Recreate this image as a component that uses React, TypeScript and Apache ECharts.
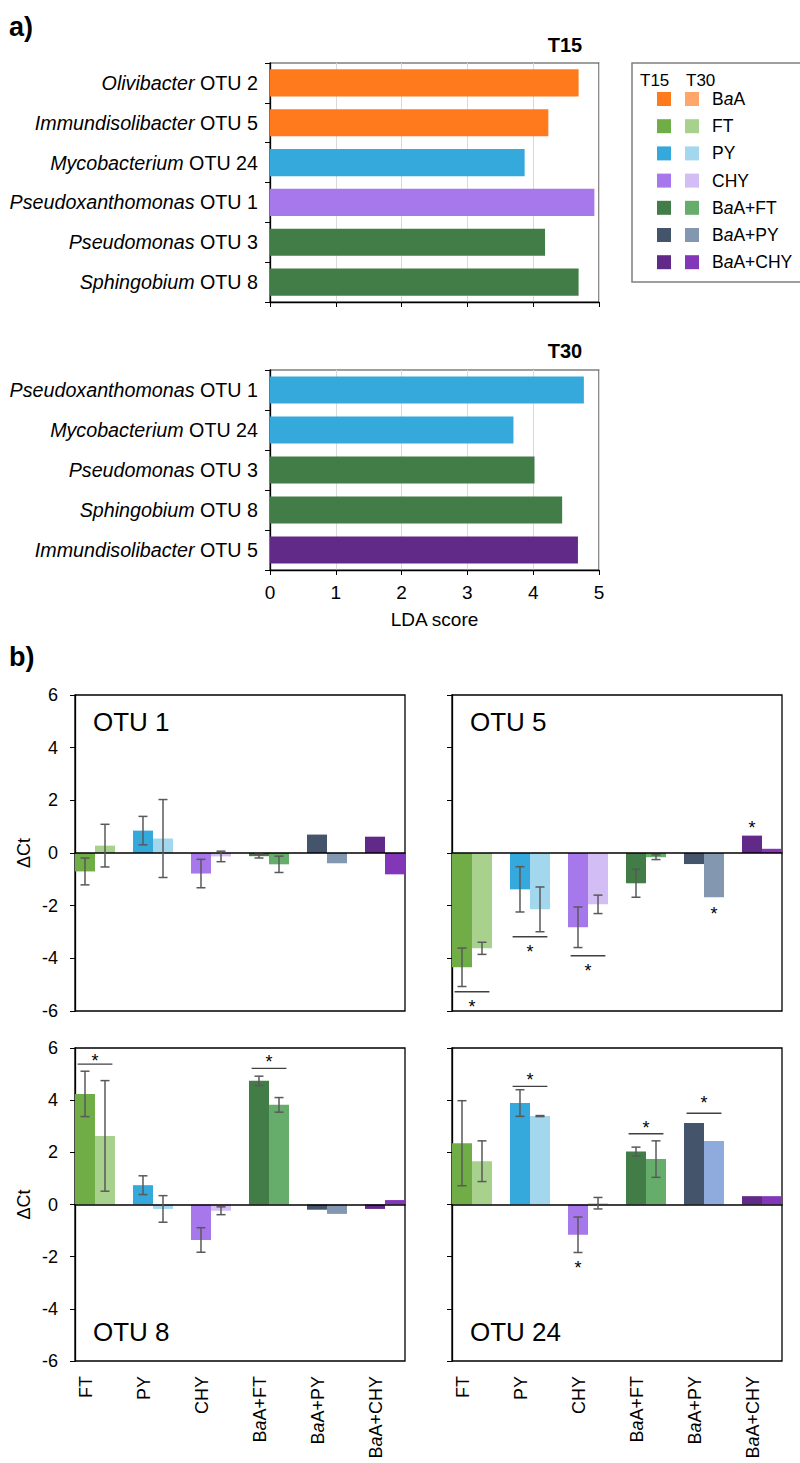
import React, { useEffect, useRef } from 'react';
import * as echarts from 'echarts';

const FONT = '"Liberation Sans", Arial, Helvetica, sans-serif';

// ---- Treatments & colours ----
const treatments = ['BaA', 'FT', 'PY', 'CHY', 'BaA+FT', 'BaA+PY', 'BaA+CHY'];
const colorsT15 = ['#FF7A1C', '#70AD47', '#35A8DC', '#A678EC', '#427D47', '#44546A', '#622A88'];
const colorsT30 = ['#FFA66B', '#A9D18E', '#A3D7EE', '#D2BDF5', '#66AD6C', '#8497B0', '#8236B8'];

// ---- Panel a: LDA scores ----
const t15Genus = ['Olivibacter', 'Immundisolibacter', 'Mycobacterium', 'Pseudoxanthomonas', 'Pseudomonas', 'Sphingobium'];
const t15Otu = ['OTU 2', 'OTU 5', 'OTU 24', 'OTU 1', 'OTU 3', 'OTU 8'];
const t15Score = [4.69, 4.23, 3.87, 4.93, 4.18, 4.69];
const t15Group = ['BaA', 'BaA', 'PY', 'CHY', 'BaA+FT', 'BaA+FT'];

const t30Genus = ['Pseudoxanthomonas', 'Mycobacterium', 'Pseudomonas', 'Sphingobium', 'Immundisolibacter'];
const t30Otu = ['OTU 1', 'OTU 24', 'OTU 3', 'OTU 8', 'OTU 5'];
const t30Score = [4.77, 3.7, 4.02, 4.44, 4.68];
const t30Group = ['PY', 'PY', 'BaA+FT', 'BaA+FT', 'BaA+CHY'];

const ldaMin = 0;
const ldaMax = 5;

// ---- Panel b: ΔCt ----
const qpcrCats = ['FT', 'PY', 'CHY', 'BaA+FT', 'BaA+PY', 'BaA+CHY'];
const dctMin = -6;
const dctMax = 6;

const otu1T15 = [-0.7, 0.85, -0.78, -0.12, 0.7, 0.62];
const otu1T15Err = [0.51, 0.54, 0.54, 0.07, null, null];
const otu1T30 = [0.28, 0.55, -0.13, -0.43, -0.39, -0.81];
const otu1T30Err = [0.81, 1.48, 0.2, 0.31, null, null];
const otu1SigLines: number[][] = [];
const otu1Stars: number[][] = [];

const otu5T15 = [-4.34, -1.38, -2.82, -1.15, -0.42, 0.66];
const otu5T15Err = [0.73, 0.86, 0.77, 0.53, null, null];
const otu5T30 = [-3.62, -2.14, -1.95, -0.16, -1.68, 0.16];
const otu5T30Err = [0.23, 0.85, 0.35, 0.09, null, null];
const otu5SigLines = [[0, -5.27], [1, -3.18], [2, -3.9]];
const otu5Stars = [[0, -5.71, 0], [1, -3.61, 0], [2, -4.34, 0], [4, -2.15, 1], [5, 1.1, -1]];

const otu8T15 = [4.24, 0.74, -1.36, 4.74, -0.2, -0.17];
const otu8T15Err = [0.87, 0.36, 0.47, 0.18, null, null];
const otu8T30 = [2.63, -0.17, -0.24, 3.82, -0.36, 0.17];
const otu8T30Err = [2.12, 0.51, 0.15, 0.28, null, null];
const otu8SigLines = [[0, 5.38], [3, 5.22]];
const otu8Stars = [[0, 5.65, 0], [3, 5.6, 0]];

const otu24T15 = [2.35, 3.89, -1.16, 2.03, 3.12, 0.32];
const otu24T15Err = [1.63, 0.51, 0.68, 0.17, null, null];
const otu24T30 = [1.66, 3.39, 0.05, 1.74, 2.43, 0.32];
const otu24T30Err = [0.78, 0.02, 0.22, 0.7, null, null];
const otu24SigLines = [[1, 4.53], [3, 2.71], [4, 3.5]];
const otu24Stars = [[1, 4.94, 0], [2, -2.29, -1], [3, 3.07, 0], [4, 4.04, 0]];

const panels = [
  { title: 'OTU 1', t15: otu1T15, t15Err: otu1T15Err, t30: otu1T30, t30Err: otu1T30Err, lines: otu1SigLines, stars: otu1Stars, col: 0, row: 0, t30Override: {} as Record<string, string> },
  { title: 'OTU 5', t15: otu5T15, t15Err: otu5T15Err, t30: otu5T30, t30Err: otu5T30Err, lines: otu5SigLines, stars: otu5Stars, col: 1, row: 0, t30Override: {} as Record<string, string> },
  { title: 'OTU 8', t15: otu8T15, t15Err: otu8T15Err, t30: otu8T30, t30Err: otu8T30Err, lines: otu8SigLines, stars: otu8Stars, col: 0, row: 1, t30Override: {} as Record<string, string> },
  { title: 'OTU 24', t15: otu24T15, t15Err: otu24T15Err, t30: otu24T30, t30Err: otu24T30Err, lines: otu24SigLines, stars: otu24Stars, col: 1, row: 1, t30Override: { 'BaA+PY': '#8FAADC' } as Record<string, string> },
];

function baaRich(v: string) {
  if (v.startsWith('BaA')) return '{n|B}{i|a}{n|A' + v.slice(3) + '}';
  return '{n|' + v + '}';
}

function colT15(t: string) {
  return colorsT15[treatments.indexOf(t)];
}
function colT30(t: string) {
  return colorsT30[treatments.indexOf(t)];
}

function buildOption() {
  const grid: any[] = [];
  const xAxis: any[] = [];
  const yAxis: any[] = [];
  const series: any[] = [];
  const graphic: any[] = [];

  // ---------- Panel a ----------
  const ldaSets = [
    { genus: t15Genus, otu: t15Otu, score: t15Score, group: t15Group, top: 63, height: 239, labels: false, name: 'T15', ty: 45 },
    { genus: t30Genus, otu: t30Otu, score: t30Score, group: t30Group, top: 370, height: 200, labels: true, name: 'T30', ty: 351 },
  ];
  ldaSets.forEach((s, k) => {
    grid.push({ left: 270, top: s.top, width: 329, height: s.height, show: true, borderColor: '#404040', borderWidth: 1.2, backgroundColor: 'transparent' });
    xAxis.push({
      type: 'value', gridIndex: k, min: ldaMin, max: ldaMax, interval: 1,
      axisLine: { show: true, lineStyle: { color: '#000', width: 1.3 } },
      axisTick: { show: true, inside: false, length: 5, lineStyle: { color: '#000' } },
      axisLabel: { show: s.labels, fontSize: 19, color: '#000', fontFamily: FONT, margin: 13 },
      splitLine: { show: true, lineStyle: { color: '#D9D9D9', width: 1 } },
      name: s.labels ? 'LDA score' : '', nameLocation: 'middle', nameGap: 40,
      nameTextStyle: { fontSize: 19, color: '#000', fontFamily: FONT },
    });
    const cats = s.genus.map((g, i) => g + '|' + s.otu[i]);
    yAxis.push({
      type: 'category', gridIndex: k, inverse: true, data: cats,
      axisLine: { show: true, lineStyle: { color: '#000', width: 1.3 } },
      axisTick: { show: true, inside: false, length: 5, lineStyle: { color: '#000' } },
      axisLabel: {
        fontSize: 19.7, margin: 12, color: '#000', fontFamily: FONT,
        formatter: (v: string) => {
          const [g, o] = v.split('|');
          return '{i|' + g + '} {n|' + o + '}';
        },
        rich: {
          n: { fontSize: 19.7, fontFamily: FONT, color: '#000' },
          i: { fontSize: 19.7, fontFamily: FONT, color: '#000', fontStyle: 'italic' },
        },
      },
      splitLine: { show: false },
    });
    series.push({
      type: 'bar', xAxisIndex: k, yAxisIndex: k, barCategoryGap: '32%',
      data: s.score.map((v, i) => ({ value: v, itemStyle: { color: colT15(s.group[i]) } })),
    });
    graphic.push({
      type: 'text', x: 565, y: s.ty,
      style: { text: s.name, fontSize: 20, fontWeight: 'bold', fontFamily: FONT, fill: '#000', align: 'center', verticalAlign: 'middle' },
    });
  });

  // ---------- Panel b ----------
  const boxLeft = [75, 452];
  const boxTop = [695, 1048];
  const boxH = [316, 313];
  const boxW = 330;
  const ext = 9;

  panels.forEach((p, pi) => {
    const gA = 2 + pi * 2;
    const gB = gA + 1;
    const left = boxLeft[p.col];
    const top = boxTop[p.row];
    const h = boxH[p.row];
    const showY = p.col === 0;
    const showX = p.row === 1;

    grid.push({ left, top, width: boxW, height: h, show: true, borderColor: '#000', borderWidth: 1.3, backgroundColor: 'transparent' });
    grid.push({ left: left - ext, top, width: boxW + 2 * ext, height: h });

    // grid A axes (frame, y ticks, zero line)
    xAxis.push({
      type: 'value', gridIndex: gA, min: 0, max: 1, z: 5,
      axisLine: { show: true, onZero: true, lineStyle: { color: '#000', width: 1.5 } },
      axisTick: { show: false }, axisLabel: { show: false }, splitLine: { show: false },
    });
    yAxis.push({
      type: 'value', gridIndex: gA, min: dctMin, max: dctMax, interval: 2,
      axisLine: { show: true, lineStyle: { color: '#000', width: 1.3 } },
      axisTick: { show: true, inside: false, length: 5, lineStyle: { color: '#000' } },
      axisLabel: { show: showY, fontSize: 18, color: '#000', fontFamily: FONT, margin: 17 },
      splitLine: { show: false },
      name: showY ? 'ΔCt' : '', nameLocation: 'middle', nameGap: 42, nameRotate: 90,
      nameTextStyle: { fontSize: 18, color: '#000', fontFamily: FONT },
    });

    // grid B axes (data)
    xAxis.push({
      type: 'category', gridIndex: gB, data: qpcrCats,
      axisLine: { show: false, onZero: false }, axisTick: { show: false },
      axisLabel: {
        show: showX, rotate: 90, margin: 15, fontSize: 18, color: '#000', verticalAlign: 'bottom',
        formatter: (v: string) => baaRich(v),
        rich: {
          n: { fontSize: 18, fontFamily: FONT, color: '#000' },
          i: { fontSize: 18, fontFamily: FONT, color: '#000', fontStyle: 'italic' },
        },
      },
      splitLine: { show: false },
    });
    yAxis.push({ type: 'value', gridIndex: gB, min: dctMin, max: dctMax, show: false });

    series.push({
      type: 'bar', xAxisIndex: gB, yAxisIndex: gB, barGap: '0%', barCategoryGap: '31%',
      data: p.t15.map((v, i) => ({ value: v, itemStyle: { color: colT15(qpcrCats[i]) } })),
    });
    series.push({
      type: 'bar', xAxisIndex: gB, yAxisIndex: gB, barGap: '0%', barCategoryGap: '31%',
      data: p.t30.map((v, i) => ({ value: v, itemStyle: { color: p.t30Override[qpcrCats[i]] || colT30(qpcrCats[i]) } })),
    });

    // error bars
    const errData: number[][] = [];
    p.t15.forEach((v, i) => { const e = p.t15Err[i]; if (e != null) errData.push([i, v, e, -1]); });
    p.t30.forEach((v, i) => { const e = p.t30Err[i]; if (e != null) errData.push([i, v, e, 1]); });
    series.push({
      type: 'custom', xAxisIndex: gB, yAxisIndex: gB, z: 6,
      encode: { x: 0, y: 1 },
      data: errData,
      renderItem: (params: any, api: any) => {
        const cat = api.value(0);
        const v = api.value(1);
        const e = api.value(2);
        const side = api.value(3);
        const band = api.size([1, 0])[0];
        const c = api.coord([cat, v]);
        const x = c[0] + side * band * 0.69 / 4;
        const yt = api.coord([cat, v + e])[1];
        const yb = api.coord([cat, v - e])[1];
        const cw = 4.5;
        const style = { stroke: '#595959', lineWidth: 1.5 };
        return {
          type: 'group',
          children: [
            { type: 'line', shape: { x1: x, y1: yt, x2: x, y2: yb }, style },
            { type: 'line', shape: { x1: x - cw, y1: yt, x2: x + cw, y2: yt }, style },
            { type: 'line', shape: { x1: x - cw, y1: yb, x2: x + cw, y2: yb }, style },
          ],
        };
      },
    });

    // significance lines and stars
    const sigData: number[][] = [];
    p.lines.forEach((l) => sigData.push([l[0], l[1], 0, 0]));
    p.stars.forEach((s) => sigData.push([s[0], s[1], 1, s[2]]));
    if (sigData.length) {
      series.push({
        type: 'custom', xAxisIndex: gB, yAxisIndex: gB, z: 6,
        encode: { x: 0, y: 1 },
        data: sigData,
        renderItem: (params: any, api: any) => {
          const cat = api.value(0);
          const y = api.value(1);
          const kind = api.value(2);
          const pos = api.value(3);
          const band = api.size([1, 0])[0];
          const c = api.coord([cat, y]);
          if (kind === 0) {
            return {
              type: 'line',
              shape: { x1: c[0] - band * 0.3, y1: c[1], x2: c[0] + band * 0.3, y2: c[1] },
              style: { stroke: '#404040', lineWidth: 1.4 },
            };
          }
          const x = c[0] + pos * band * 0.69 / 4;
          return {
            type: 'text', x, y: c[1] + 4,
            style: { text: '*', fontSize: 18, fontFamily: FONT, fill: '#000', align: 'center', verticalAlign: 'middle' },
          };
        },
      });
    }

    // OTU title
    const ty = p.row === 0 ? top + 27 : top + h - 29;
    graphic.push({
      type: 'text', x: left + 18, y: ty,
      style: { text: p.title, fontSize: 26, fontFamily: FONT, fill: '#000', align: 'left', verticalAlign: 'middle' },
    });
  });

  // ---------- Panel labels ----------
  graphic.push({ type: 'text', x: 9, y: 27, style: { text: 'a)', fontSize: 27, fontWeight: 'bold', fontFamily: FONT, fill: '#000', align: 'left', verticalAlign: 'middle' } });
  graphic.push({ type: 'text', x: 9, y: 657, style: { text: 'b)', fontSize: 27, fontWeight: 'bold', fontFamily: FONT, fill: '#000', align: 'left', verticalAlign: 'middle' } });

  // ---------- Legend ----------
  graphic.push({ type: 'rect', shape: { x: 632, y: 63, width: 200, height: 219 }, style: { fill: '#fff', stroke: '#7F7F7F', lineWidth: 1.5 }, z: 10 });
  graphic.push({ type: 'text', x: 640, y: 80, z: 11, style: { text: 'T15', fontSize: 17, fontFamily: FONT, fill: '#000', align: 'left', verticalAlign: 'middle' } });
  graphic.push({ type: 'text', x: 686, y: 80, z: 11, style: { text: 'T30', fontSize: 17, fontFamily: FONT, fill: '#000', align: 'left', verticalAlign: 'middle' } });
  treatments.forEach((t, i) => {
    const cy = 99 + i * 27.2;
    graphic.push({ type: 'rect', z: 11, shape: { x: 657, y: cy - 7, width: 14, height: 14 }, style: { fill: colorsT15[i] } });
    graphic.push({ type: 'rect', z: 11, shape: { x: 685, y: cy - 7, width: 14, height: 14 }, style: { fill: colorsT30[i] } });
    graphic.push({
      type: 'text', x: 712, y: cy, z: 11,
      style: {
        text: baaRich(t), fontSize: 17.5, fontFamily: FONT, fill: '#000', align: 'left', verticalAlign: 'middle',
        rich: {
          n: { fontSize: 17.5, fontFamily: FONT, fill: '#000' },
          i: { fontSize: 17.5, fontFamily: FONT, fill: '#000', fontStyle: 'italic' },
        },
      },
    });
  });

  return {
    animation: false,
    backgroundColor: '#fff',
    textStyle: { fontFamily: FONT },
    grid, xAxis, yAxis, series, graphic,
  };
}

export default function App() {
  const ref = useRef<HTMLDivElement>(null);
  useEffect(() => {
    if (!ref.current) return;
    const chart = echarts.init(ref.current, undefined, { renderer: 'svg' });
    chart.setOption(buildOption() as any);
    return () => chart.dispose();
  }, []);
  return <div ref={ref} style={{ position: 'absolute', left: 0, top: 0, width: 800, height: 1463 }} />;
}
